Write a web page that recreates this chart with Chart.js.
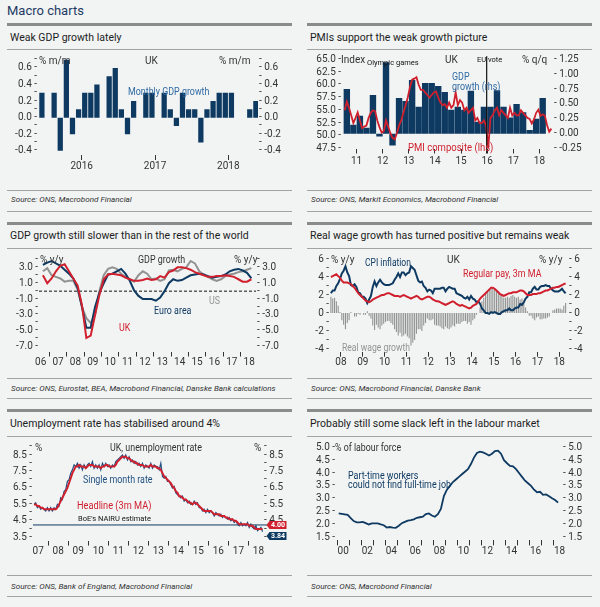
<!DOCTYPE html>
<html>
<head>
<meta charset="utf-8">
<script src="https://cdn.jsdelivr.net/npm/chart.js@4.4.1/dist/chart.umd.min.js"></script>
<style>
  body { margin: 0; width: 600px; height: 607px; background: #f2f4f4; position: relative; overflow: hidden;
         font-family: Roboto, "Noto Sans", sans-serif; color: #222; }
  .abs { position: absolute; white-space: nowrap; line-height: 1; transform: translateY(-50%); transform-origin: 0 50%; }
  .rule { position: absolute; height: 1px; background: #a3a3a3; }
  .thick { position: absolute; height: 3px; background: #8b8b8b; }
  .title { font-size: 10.5px; color: #1c1c1c; }
  .source { font-size: 8.1px; font-style: italic; color: #333; }
  canvas { position: absolute; }
</style>
</head>
<body>
<div class="abs" style="left:7px;top:10px;font-size:13px;color:#1e3a63">Macro charts</div>
<div id="page"></div>
<script>
// ---- data ---------------------------------------------------------------
// UK monthly GDP growth, % m/m, from Dec 2015
const gdpMonthStart = [2015, 12];
const gdpMonthly = [0.3, 0.0, 0.3, -0.4, 0.7, -0.2, 0.1, 0.3, 0.3, 0.4, 0.0, 0.5,
                    0.6, 0.1, -0.2, 0.2, 0.0, 0.3, 0.3, 0.0, 0.3, 0.1, -0.1, 0.3,
                    0.1, 0.1, -0.3, 0.1, 0.2, 0.3, 0.3, 0.3, 0.0, 0.0, 0.1, 0.2];
const gdpMonthYears = [2016, 2017, 2018];
const gdpMonthYearLabels = ["2016", "2017", "2018"];

// PMI composite (lhs, monthly from Jan 2011) and GDP % q/q (rhs, from 2011Q1)
const pmiStart = [2011, 1];
const pmiComposite = [55.0, 56.7, 55.5, 54.0, 52.5, 53.5, 54.6, 53.0, 51.5, 51.8, 52.0, 53.5,
                      54.5, 55.0, 54.8, 53.0, 51.7, 50.6, 50.9, 53.0, 51.8, 50.5, 49.6, 49.3,
                      50.5, 52.0, 53.0, 54.5, 56.0, 57.5, 59.5, 61.0, 61.2, 61.5, 60.0, 59.0,
                      59.0, 58.5, 58.0, 57.5, 58.0, 58.5, 58.7, 57.5, 56.5, 56.0, 56.2, 55.5,
                      56.5, 55.5, 56.0, 58.5, 56.0, 57.0, 56.5, 55.0, 55.5, 54.5, 55.0, 55.5,
                      53.0, 53.5, 52.5, 52.5, 53.0, 52.0, 47.6, 53.5, 54.0, 55.0, 55.5, 54.0,
                      55.0, 54.5, 54.0, 53.5, 55.5, 54.0, 54.5, 54.0, 54.0, 55.0, 54.5, 54.0,
                      53.5, 53.3, 52.4, 53.2, 54.5, 55.1, 53.9, 54.2, 53.9, 52.1, 50.8, 51.4];
const gdpQoqStart = [2011, 1];
const gdpQoq = [0.75, 0.15, 0.3, 0.1, 0.65, -0.05, 1.2, -0.2, 0.6, 0.55, 0.9, 0.45,
                0.85, 0.85, 0.8, 0.7, 0.4, 0.45, 0.4, 0.72, 0.2, 0.45, 0.45, 0.73,
                0.45, 0.27, 0.5, 0.36, 0.06, 0.25, 0.6];
const euVote = 2016.48;
const pmiYears = [2011, 2012, 2013, 2014, 2015, 2016, 2017, 2018];
const pmiYearLabels = ["11", "12", "13", "14", "15", "16", "17", "18"];

// GDP growth % y/y, quarterly from 2006Q3
const yoyStart = [2006, 3];
const gdpUK = [2.0, 1.0, 1.6, 2.5, 3.2, 3.4, 2.5, 1.6, 0.7, -1.8, -5.9, -5.6, -3.0, -0.5,
               1.5, 2.1, 2.2, 2.1, 2.0, 1.7, 1.5, 1.3, 1.3, 1.4, 1.6, 1.4, 1.5, 1.9, 1.7, 2.4,
               2.6, 3.0, 3.0, 2.9, 2.7, 2.4, 2.2, 2.0, 1.8, 1.8, 1.9, 1.9, 2.0, 1.9, 1.8, 1.5,
               1.2, 1.2, 1.5];
const gdpEA = [3.3, 3.6, 3.8, 3.5, 3.2, 2.7, 2.2, 1.6, 0.4, -2.0, -4.6, -4.6, -2.0, -0.2,
               1.0, 2.1, 2.2, 2.5, 2.8, 2.2, 1.3, 0.1, -0.6, -1.0, -1.0, -1.0, -1.2, -0.8, 0.0, 1.0,
               1.5, 1.3, 1.4, 1.7, 2.0, 2.1, 2.2, 2.1, 1.9, 1.7, 1.8, 1.9, 2.1, 2.5, 2.7, 2.8,
               2.6, 2.3, 1.6];
const gdpUS = [2.5, 2.9, 2.0, 1.8, 1.6, 1.2, 1.3, 1.3, 0.2, -2.0, -3.4, -4.0, -3.0, 0.0,
               2.0, 2.8, 3.0, 2.8, 2.2, 1.8, 1.5, 1.2, 2.0, 2.5, 2.2, 1.5, 1.6, 1.3, 1.5, 2.6,
               2.7, 2.5, 2.8, 3.0, 3.8, 3.5, 2.5, 2.1, 1.8, 1.5, 1.3, 1.5, 1.9, 2.1, 2.2, 2.4,
               2.5, 2.7, 2.9];
const yoyYears = [2006, 2007, 2008, 2009, 2010, 2011, 2012, 2013, 2014, 2015, 2016, 2017, 2018];
const yoyYearLabels = ["06", "07", "08", "09", "10", "11", "12", "13", "14", "15", "16", "17", "18"];

// CPI inflation, regular pay (3m MA) and real wage growth, % y/y, monthly from Jan 2008
const wageStart = [2008, 1];
const cpiInflation = [2.2, 2.5, 2.5, 3.0, 3.3, 3.8, 4.4, 4.7, 5.2, 4.5, 4.1, 3.1,
                      3.0, 3.2, 2.9, 2.3, 2.2, 1.8, 1.8, 1.6, 1.1, 1.5, 1.9, 2.9,
                      3.5, 3.0, 3.4, 3.7, 3.4, 3.2, 3.1, 3.1, 3.1, 3.2, 3.3, 3.7,
                      4.0, 4.4, 4.0, 4.5, 4.5, 4.2, 4.4, 4.5, 5.2, 5.0, 4.8, 4.2,
                      3.6, 3.4, 3.5, 3.0, 2.8, 2.4, 2.6, 2.5, 2.2, 2.7, 2.7, 2.7,
                      2.7, 2.8, 2.8, 2.4, 2.7, 2.9, 2.8, 2.7, 2.7, 2.2, 2.1, 2.0,
                      1.9, 1.7, 1.6, 1.8, 1.5, 1.9, 1.6, 1.5, 1.2, 1.3, 1.0, 0.5,
                      0.3, 0.0, 0.0, -0.1, 0.1, 0.0, 0.1, 0.0, -0.1, -0.1, 0.1, 0.2,
                      0.3, 0.3, 0.5, 0.3, 0.3, 0.5, 0.6, 0.6, 1.0, 0.9, 1.2, 1.6,
                      1.8, 2.3, 2.3, 2.7, 2.9, 2.6, 2.6, 2.9, 3.0, 3.0, 3.1, 3.0,
                      3.0, 2.7, 2.5, 2.4, 2.4, 2.4, 2.5, 2.7, 2.4, 2.2];
const regularPay = [4.0, 4.1, 4.2, 4.3, 4.1, 3.9, 3.6, 3.4, 3.4, 3.4, 3.3, 3.2,
                    3.0, 2.8, 2.5, 2.2, 2.0, 1.8, 1.6, 1.4, 1.3, 1.2, 1.3, 1.5,
                    1.6, 1.7, 1.8, 1.9, 2.0, 2.0, 2.1, 2.2, 2.2, 2.1, 2.0, 1.9,
                    1.9, 1.9, 1.8, 1.9, 2.0, 1.9, 1.8, 1.7, 1.6, 1.7, 1.8, 1.9,
                    1.8, 1.6, 1.5, 1.6, 1.7, 1.8, 1.8, 1.7, 1.5, 1.4, 1.3, 1.3,
                    1.2, 1.1, 1.0, 0.9, 1.0, 1.1, 1.2, 1.3, 1.2, 1.0, 0.9, 0.8,
                    0.9, 0.8, 0.7, 0.6, 0.5, 0.6, 0.8, 0.9, 1.0, 1.3, 1.6, 1.8,
                    2.0, 2.2, 2.4, 2.6, 2.8, 2.8, 2.7, 2.5, 2.3, 2.1, 2.0, 1.9,
                    2.0, 2.1, 2.2, 2.2, 2.3, 2.3, 2.3, 2.4, 2.5, 2.5, 2.4, 2.2,
                    2.0, 2.0, 2.0, 2.1, 2.1, 2.1, 2.2, 2.2, 2.3, 2.4, 2.5, 2.5,
                    2.6, 2.7, 2.8, 2.8, 2.9, 2.9, 3.0, 3.1, 3.2, 3.3];
const realWage = [1.8, 1.6, 1.7, 1.3, 0.8, 0.1, -0.8, -1.3, -1.8, -1.1, -0.8, 0.1,
                  0.0, -0.4, -0.4, -0.1, -0.2, 0.0, -0.2, -0.2, 0.2, -0.3, -0.6, -1.4,
                  -1.9, -1.3, -1.6, -1.8, -1.4, -1.2, -1.0, -0.9, -0.9, -1.1, -1.3, -1.8,
                  -2.1, -2.5, -2.2, -2.6, -2.5, -2.3, -2.6, -2.8, -3.6, -3.3, -3.0, -2.3,
                  -1.8, -1.8, -2.0, -1.4, -1.1, -0.6, -0.8, -0.8, -0.7, -1.3, -1.4, -1.4,
                  -1.5, -1.7, -1.8, -1.5, -1.7, -1.8, -1.6, -1.4, -1.5, -1.2, -1.2, -1.2,
                  -1.0, -0.9, -0.9, -1.2, -1.0, -1.3, -0.8, -0.6, -0.2, 0.0, 0.6, 1.3,
                  1.7, 2.2, 2.4, 2.7, 2.7, 2.8, 2.6, 2.5, 2.4, 2.2, 1.9, 1.7,
                  1.7, 1.8, 1.7, 1.9, 2.0, 1.8, 1.7, 1.8, 1.5, 1.6, 1.2, 0.6,
                  0.2, -0.3, -0.3, -0.6, -0.8, -0.5, -0.4, -0.7, -0.7, -0.6, -0.6, -0.5,
                  -0.4, 0.0, 0.3, 0.4, 0.5, 0.5, 0.5, 0.4, 0.8, 1.1];
const wageYears = [2008, 2009, 2010, 2011, 2012, 2013, 2014, 2015, 2016, 2017, 2018];
const wageYearLabels = ["08", "09", "10", "11", "12", "13", "14", "15", "16", "17", "18"];

// UK unemployment rate, %, monthly from Apr 2007
const unempStart = [2007, 4];
const unempHeadline = [5.5, 5.5, 5.4, 5.4, 5.3, 5.3, 5.2, 5.2, 5.2,
                       5.2, 5.2, 5.2, 5.2, 5.2, 5.3, 5.5, 5.7, 5.9, 6.1, 6.3, 6.5,
                       6.8, 7.1, 7.4, 7.6, 7.8, 7.8, 7.9, 7.8, 7.8, 7.8, 7.7, 7.8,
                       7.9, 7.9, 7.9, 7.8, 7.8, 7.8, 7.8, 7.7, 7.8, 7.8, 7.9, 7.9,
                       7.8, 7.8, 7.8, 7.8, 7.9, 8.1, 8.2, 8.3, 8.4, 8.4, 8.4, 8.3,
                       8.3, 8.2, 8.1, 8.1, 8.0, 8.0, 7.9, 7.9, 7.9, 7.8, 7.8, 7.8,
                       7.8, 7.9, 7.8, 7.8, 7.8, 7.7, 7.7, 7.6, 7.4, 7.2, 7.1, 7.0,
                       6.9, 6.8, 6.6, 6.5, 6.3, 6.2, 6.0, 6.0, 5.9, 5.8, 5.8, 5.7,
                       5.6, 5.6, 5.5, 5.6, 5.6, 5.5, 5.4, 5.3, 5.2, 5.1, 5.1, 5.1,
                       5.1, 5.1, 5.0, 4.9, 4.9, 4.9, 4.9, 4.8, 4.8, 4.8, 4.7, 4.7,
                       4.6, 4.6, 4.6, 4.5, 4.5, 4.4, 4.3, 4.3, 4.3, 4.3, 4.3, 4.3,
                       4.2, 4.2, 4.2, 4.1, 4.0, 4.0, 4.0, 4.0, 4.0];
const unempSingle = [5.5, 5.6, 5.3, 5.4, 5.2, 5.3, 5.2, 5.1, 5.3,
                     5.1, 5.3, 5.1, 5.3, 5.2, 5.5, 5.4, 5.9, 5.8, 6.3, 6.4, 6.9,
                     7.0, 7.4, 7.6, 7.9, 7.8, 8.0, 7.7, 7.9, 7.6, 7.9, 7.7, 7.9,
                     8.0, 7.8, 8.1, 7.7, 7.9, 7.7, 7.9, 7.6, 8.0, 7.8, 8.0, 7.8,
                     7.9, 7.7, 7.9, 7.8, 8.1, 8.2, 8.3, 8.4, 8.5, 8.3, 8.5, 8.2,
                     8.4, 8.1, 8.2, 8.0, 8.1, 7.9, 8.0, 7.8, 8.0, 7.7, 7.9, 7.8,
                     7.7, 8.0, 7.7, 7.9, 7.8, 7.8, 7.6, 8.0, 7.2, 7.1, 7.2, 6.9,
                     6.9, 6.7, 6.5, 6.6, 6.2, 6.1, 6.0, 5.9, 6.0, 5.7, 5.8, 5.6,
                     5.7, 5.5, 5.5, 5.7, 5.5, 5.6, 5.3, 5.3, 5.1, 5.2, 5.0, 5.2,
                     5.0, 5.1, 5.0, 4.8, 5.0, 4.9, 4.8, 4.9, 4.7, 4.8, 4.7, 4.6,
                     4.7, 4.5, 4.6, 4.4, 4.5, 4.3, 4.2, 4.4, 4.2, 4.3, 4.2, 4.4,
                     4.1, 4.3, 4.1, 4.0, 4.2, 3.9, 4.0, 4.1, 3.84];
const nairu = 4.25;
const unempYears = [2007, 2008, 2009, 2010, 2011, 2012, 2013, 2014, 2015, 2016, 2017, 2018];
const unempYearLabels = ["07", "08", "09", "10", "11", "12", "13", "14", "15", "16", "17", "18"];

// Part-time workers who could not find full-time job, % of labour force, quarterly from 2000Q1
const ptStart = [2000, 1];
const partTime = [2.43, 2.41, 2.39, 2.37, 2.25, 2.13, 2.08, 2.08, 2.1, 2.05, 2.0, 2.04,
                  2.04, 2.04, 2.0, 1.97, 1.88, 1.9, 1.88, 1.87, 1.95, 2.05, 2.1, 2.15,
                  2.17, 2.2, 2.26, 2.28, 2.3, 2.4, 2.43, 2.35, 2.3, 2.4, 2.6, 3.1,
                  3.35, 3.5, 3.65, 3.75, 3.85, 3.95, 4.05, 4.15, 4.35, 4.6, 4.78, 4.83,
                  4.8, 4.75, 4.68, 4.75, 4.85, 4.87, 4.75, 4.5, 4.38, 4.28, 4.26, 4.15,
                  4.0, 3.85, 3.7, 3.6, 3.5, 3.35, 3.25, 3.27, 3.15, 3.17, 3.1, 3.02,
                  2.95, 2.85];
const ptYears = [2000, 2002, 2004, 2006, 2008, 2010, 2012, 2014, 2016, 2018];
const ptYearLabels = ["00", "02", "04", "06", "08", "10", "12", "14", "16", "18"];

// ---- look ---------------------------------------------------------------
const NAVY = "#0e3a62", RED = "#d0202e", GRAY = "#929292", INK = "#333", BLUE = "#2f6aa3";
const FONT = "Roboto, 'Noto Sans', sans-serif";
const TICK = { size: 10 };
Chart.defaults.font.family = FONT;
Chart.defaults.color = INK;

const W = 285;
const COLS = [7, 307];
const ROWS = [
  { thick: 23, title: 37.5, rule: 49, c0: 50, c1: 188, srcRule: 190, src: 199, end: 211 },
  { thick: 222, title: 236, rule: 248, c0: 249, c1: 376, srcRule: 378, src: 387.5, end: 398 },
  { thick: 409, title: 424, rule: 436, c0: 437, c1: 573, srcRule: 575, src: 585.5, end: 596 },
];
const page = document.getElementById("page");

function panel(col, row, title, source) {
  const x = COLS[col], r = ROWS[row], id = `c${row}${col}`;
  page.insertAdjacentHTML("beforeend", `
    <div class="thick" style="left:${x}px;top:${r.thick}px;width:${W}px"></div>
    <div class="abs title" style="left:${x + 3}px;top:${r.title}px">${title}</div>
    <div class="rule" style="left:${x}px;top:${r.rule}px;width:${W}px"></div>
    <canvas id="${id}" width="${W}" height="${r.c1 - r.c0}" style="left:${x}px;top:${r.c0}px"></canvas>
    <div class="rule" style="left:${x}px;top:${r.srcRule}px;width:${W}px"></div>
    <div class="abs source" style="left:${x + 4}px;top:${r.src}px">${source}</div>
    <div class="rule" style="left:${x}px;top:${r.end}px;width:${W}px"></div>`);
  return document.getElementById(id);
}

// series captions are set narrow, like the condensed house font
function note(text, x, y, color = INK, size = 10, sx = 0.89) {
  page.insertAdjacentHTML("beforeend",
    `<div class="abs" style="left:${x}px;top:${y}px;color:${color};font-size:${size}px;transform:translateY(-50%) scaleX(${sx})">${text}</div>`);
}
const unit = (text, x, y) => note(text, x, y, INK, 10, 1);
const small = (text, x, y) => note(text, x, y, "#111", 7.5, 1);

const monthly = (start, vals) => vals.map((v, i) => ({ x: start[0] + (start[1] - 1 + i + 0.5) / 12, y: v }));
const quarterly = (start, vals) => vals.map((v, i) => ({ x: start[0] + (start[1] - 1 + i + 0.5) / 4, y: v }));

function yAxis(side, min, max, major, minor, digits, width) {
  const all = major.concat(minor).sort((a, b) => a - b);
  return {
    type: "linear", position: side, min, max,
    grid: { display: false, drawTicks: false }, border: { display: false },
    afterBuildTicks: (s) => { s.ticks = all.map((v) => ({ value: v })); },
    afterFit: (s) => { s.width = width; },
    ticks: {
      padding: 1, color: INK, font: TICK, autoSkip: false,
      callback: (v) => {
        const lab = major.some((m) => Math.abs(m - v) < 1e-9) ? v.toFixed(digits) : "";
        if (side === "left") return lab ? `${lab} -` : "-";
        return lab ? `- ${lab}` : "-";
      },
    },
  };
}

function xAxes(min, max, years, names, labelPad, edges) {
  const cuts = edges || years.concat([years[years.length - 1] + 1]);
  return {
    x: {
      type: "linear", position: "bottom", min, max, weight: 2, offset: false,
      grid: { display: false, drawTicks: false }, border: { display: false },
      afterBuildTicks: (s) => { s.ticks = years.map((y) => ({ value: y + 0.5 })); },
      afterFit: (s) => { s.height = 14; },
      ticks: { padding: labelPad, autoSkip: false, maxRotation: 0, color: INK, font: TICK,
               callback: (v, i) => names[i] },
    },
    xt: {
      type: "linear", position: "bottom", min, max, weight: 1, offset: false,
      grid: { drawOnChartArea: false, tickLength: 5, color: INK, tickColor: INK },
      border: { display: false },
      afterBuildTicks: (s) => { s.ticks = cuts.filter((c) => c >= min && c <= max).map((c) => ({ value: c })); },
      afterFit: (s) => { s.height = 5; },
      ticks: { display: false },
    },
  };
}

function opts(top, bottom, scales) {
  return {
    responsive: false, animation: false, events: [],
    layout: { autoPadding: false, padding: { top, bottom, left: 0, right: 0 } },
    plugins: { legend: { display: false }, tooltip: { enabled: false } },
    elements: { point: { radius: 0 }, line: { borderWidth: 2, tension: 0 } },
    scales,
  };
}

// ---- 1: weak GDP growth lately -----------------------------------------
const c1 = panel(0, 0, "Weak GDP growth lately", "Source: ONS, Macrobond Financial");
const m1Major = [-0.4, -0.2, 0, 0.2, 0.4, 0.6], m1Minor = [-0.3, -0.1, 0.1, 0.3, 0.5, 0.7];
new Chart(c1, {
  type: "bar",
  data: { datasets: [{ data: monthly(gdpMonthStart, gdpMonthly), backgroundColor: NAVY,
                       categoryPercentage: 0.86, barPercentage: 1, xAxisID: "x", yAxisID: "y" }] },
  options: opts(9.6, 14, {
    ...xAxes(2015.905, 2018.904, gdpMonthYears, gdpMonthYearLabels, 0, [2016, 2017, 2018]),
    y: yAxis("left", -0.45, 0.7, m1Major, m1Minor, 1, 31),
    y2: yAxis("right", -0.45, 0.7, m1Major, m1Minor, 1, 34),
  }),
});
unit("% m/m", 39, 61);
unit("UK", 145, 61);
unit("% m/m", 219, 61);
note("Monthly GDP growth", 128, 92, BLUE);

// ---- 2: PMIs ------------------------------------------------------------
const c2 = panel(1, 0, "PMIs support the weak growth picture", "Source: ONS, Markit Economics, Macrobond Financial");
new Chart(c2, {
  type: "bar",
  data: { datasets: [
    { type: "line", data: monthly(pmiStart, pmiComposite), borderColor: RED, borderWidth: 1.8,
      xAxisID: "x", yAxisID: "y", order: 0 },
    { type: "bar", data: quarterly(gdpQoqStart, gdpQoq), backgroundColor: NAVY,
      categoryPercentage: 0.98, barPercentage: 1, xAxisID: "x", yAxisID: "y2", order: 1 },
  ] },
  options: opts(9.3, 20.5, {
    ...xAxes(2010.94, 2019.02, pmiYears, pmiYearLabels, 2),
    y: yAxis("left", 47.5, 65, [47.5, 50, 52.5, 55, 57.5, 60, 62.5, 65], [], 1, 35),
    y2: yAxis("right", -0.25, 1.25, [-0.25, 0, 0.25, 0.5, 0.75, 1, 1.25], [], 2, 39),
  }),
  plugins: [{
    id: "euvote",
    afterDatasetsDraw(chart) {
      const { ctx, chartArea } = chart;
      const px = chart.scales.x.getPixelForValue(euVote);
      ctx.save();
      ctx.strokeStyle = "#111"; ctx.lineWidth = 1.2;
      ctx.beginPath(); ctx.moveTo(px, chartArea.top - 3); ctx.lineTo(px, chartArea.bottom + 5); ctx.stroke();
      ctx.restore();
    },
  }],
});
unit("Index", 341, 59.5);
small("Olympic games", 367, 62.5);
unit("UK", 445, 59.5);
small("EU vote", 477, 59.5);
unit("% q/q", 522, 59.5);
note("GDP", 452, 77, BLUE);
note("growth (rhs)", 452, 87, BLUE);
note("PMI composite (lhs)", 408, 147.5, RED, 10, 0.95);

// ---- 3: GDP growth vs rest of world -------------------------------------
const c3 = panel(0, 1, "GDP growth still slower than in the rest of the world",
  "Source: ONS, Eurostat, BEA, Macrobond Financial, Danske Bank calculations");
const m3Major = [-7, -5, -3, -1, 1, 3], m3Minor = [-6, -4, -2, 0, 2, 4];
new Chart(c3, {
  type: "line",
  data: { datasets: [
    { data: quarterly(yoyStart, gdpUS), borderColor: GRAY, xAxisID: "x", yAxisID: "y", order: 2 },
    { data: quarterly(yoyStart, gdpEA), borderColor: NAVY, xAxisID: "x", yAxisID: "y", order: 1 },
    { data: quarterly(yoyStart, gdpUK), borderColor: RED, xAxisID: "x", yAxisID: "y", order: 0 },
  ] },
  options: opts(10.4, 5.5, {
    ...xAxes(2006.4, 2018.89, yoyYears, yoyYearLabels, 0),
    y: yAxis("left", -7.6, 4, m3Major, m3Minor, 1, 32),
    y2: yAxis("right", -7.6, 4, m3Major, m3Minor, 1, 36),
  }),
  plugins: [{
    id: "zero",
    beforeDatasetsDraw(chart) {
      const { ctx, chartArea } = chart;
      const py = chart.scales.y.getPixelForValue(0);
      ctx.save();
      ctx.strokeStyle = "#111"; ctx.lineWidth = 1; ctx.setLineDash([3, 2]);
      ctx.beginPath(); ctx.moveTo(chartArea.left, py); ctx.lineTo(chartArea.right, py); ctx.stroke();
      ctx.restore();
    },
  }],
});
unit("% y/y", 40, 259.5);
note("GDP growth", 138, 259.5, INK);
unit("% y/y", 234, 259.5);
note("US", 209, 301, GRAY);
note("Euro area", 154, 311, NAVY);
note("UK", 119, 328, RED);

// ---- 4: real wages ------------------------------------------------------
const c4 = panel(1, 1, "Real wage growth has turned positive but remains weak",
  "Source: ONS, Macrobond Financial, Danske Bank");
const m4Major = [-4, -2, 0, 2, 4, 6], m4Minor = [-3, -1, 1, 3, 5];
new Chart(c4, {
  type: "bar",
  data: { datasets: [
    { type: "bar", data: monthly(wageStart, realWage), backgroundColor: GRAY,
      categoryPercentage: 0.6, barPercentage: 1, xAxisID: "x", yAxisID: "y", order: 2 },
    { type: "line", data: monthly(wageStart, cpiInflation), borderColor: NAVY, xAxisID: "x", yAxisID: "y", order: 1 },
    { type: "line", data: monthly(wageStart, regularPay), borderColor: RED, xAxisID: "x", yAxisID: "y", order: 0 },
  ] },
  options: opts(10, 5.3, {
    ...xAxes(2008.0, 2018.9, wageYears, wageYearLabels, 0, wageYears),
    y: yAxis("left", -4.3, 6, m4Major, m4Minor, 0, 23),
    y2: yAxis("right", -4.3, 6, m4Major, m4Minor, 0, 24),
  }),
});
unit("% y/y", 331, 259.5);
note("CPI inflation", 365, 262.5, NAVY, 10, 0.85);
unit("UK", 447, 259.5);
unit("% y/y", 539, 259.5);
note("Regular pay, 3m MA", 463, 273.5, RED);
note("Real wage growth", 342, 348, GRAY, 10, 0.86);

// ---- 5: unemployment ----------------------------------------------------
const c5 = panel(0, 2, "Unemployment rate has stabilised around 4%", "Source: ONS, Bank of England, Macrobond Financial");
const m5Major = [3.5, 4.5, 5.5, 6.5, 7.5, 8.5], m5Minor = [4, 5, 6, 7, 8, 9];
new Chart(c5, {
  type: "line",
  data: { datasets: [
    { data: monthly(unempStart, unempSingle), borderColor: "#1f4f80", borderWidth: 1.2, xAxisID: "x", yAxisID: "y", order: 1 },
    { data: monthly(unempStart, unempHeadline), borderColor: RED, borderWidth: 2, xAxisID: "x", yAxisID: "y", order: 0 },
  ] },
  options: opts(9.8, 13.4, {
    ...xAxes(2007.24, 2018.73, unempYears, unempYearLabels, 0),
    y: yAxis("left", 3.3, 9, m5Major, m5Minor, 1, 26),
    y2: yAxis("right", 3.3, 9, m5Major, m5Minor, 1, 29),
  }),
  plugins: [{
    id: "nairu",
    beforeDatasetsDraw(chart) {
      const { ctx, chartArea } = chart;
      const py = chart.scales.y.getPixelForValue(nairu);
      ctx.save();
      ctx.strokeStyle = NAVY; ctx.lineWidth = 1;
      ctx.beginPath(); ctx.moveTo(chartArea.left, py); ctx.lineTo(chartArea.right + 4, py); ctx.stroke();
      ctx.restore();
    },
    afterDraw(chart) {
      const { ctx, chartArea } = chart;
      const last = [[unempHeadline[unempHeadline.length - 1], RED], [unempSingle[unempSingle.length - 1], NAVY]];
      const mid = last.reduce((s, [v]) => s + chart.scales.y.getPixelForValue(v), 0) / 2;
      ctx.save();
      last.forEach(([v, c], i) => {
        const x = chartArea.right + 6.5, y = mid + (i ? 5.5 : -5.5);
        ctx.fillStyle = c;
        ctx.beginPath();
        ctx.moveTo(x - 3, y); ctx.lineTo(x, y - 4); ctx.lineTo(x + 17, y - 4);
        ctx.lineTo(x + 17, y + 4); ctx.lineTo(x, y + 4); ctx.closePath(); ctx.fill();
        ctx.fillStyle = "#fff"; ctx.font = `bold 7px ${FONT}`;
        ctx.textAlign = "center"; ctx.textBaseline = "middle";
        ctx.fillText(v.toFixed(2), x + 8.5, y + 0.5);
      });
      ctx.restore();
    },
  }],
});
unit("%", 35, 448);
note("UK, unemployment rate", 110, 448, INK);
unit("%", 254, 448);
note("Single month rate", 83, 480, "#1f4f80");
note("Headline (3m MA)", 77, 506, RED, 10, 0.92);
small("BoE's NAIRU estimate", 78, 519);

// ---- 6: part-time slack -------------------------------------------------
const c6 = panel(1, 2, "Probably still some slack left in the labour market", "Source: ONS, Macrobond Financial");
new Chart(c6, {
  type: "line",
  data: { datasets: [
    { data: quarterly(ptStart, partTime), borderColor: NAVY, borderWidth: 1.8, xAxisID: "x", yAxisID: "y" },
  ] },
  options: opts(10.3, 13.6, {
    ...xAxes(1999.9, 2018.7, ptYears, ptYearLabels, 0,
      [2000, 2001, 2002, 2003, 2004, 2005, 2006, 2007, 2008, 2009, 2010, 2011, 2012, 2013, 2014, 2015, 2016, 2017, 2018]),
    y: yAxis("left", 1.38, 5, [1.5, 2, 2.5, 3, 3.5, 4, 4.5, 5], [], 1, 29),
    y2: yAxis("right", 1.38, 5, [1.5, 2, 2.5, 3, 3.5, 4, 4.5, 5], [], 1, 30),
  }),
});
note("% of labour force", 335, 447.5, INK, 10, 0.88);
note("Part-time workers", 348, 476, NAVY);
note("could not find full-time job", 348, 485, NAVY);
</script>
</body>
</html>
